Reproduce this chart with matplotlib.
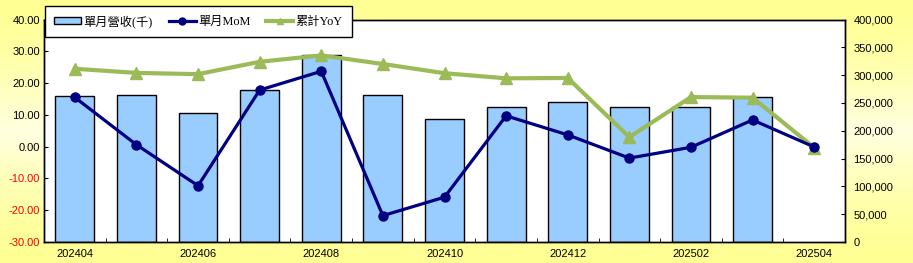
import numpy as np
import matplotlib.pyplot as plt
from matplotlib.patches import Patch
from matplotlib.lines import Line2D
from matplotlib.ticker import FuncFormatter, FixedLocator

plt.rcParams['font.family'] = ['Liberation Sans', 'Noto Sans CJK TC', 'DejaVu Sans']

months = ['202404', '202405', '202406', '202407', '202408', '202409', '202410',
          '202411', '202412', '202501', '202502', '202503', '202504']
revenue = [262000, 264000, 232000, 273000, 337000, 264000, 221000,
           243000, 252000, 243000, 242000, 261000, None]
mom = [15.5, 0.6, -12.3, 17.8, 23.7, -21.7, -15.9, 9.7, 3.7, -3.6, -0.2, 8.4, -0.1]
yoy = [24.5, 23.2, 22.8, 26.7, 28.7, 26.0, 23.1, 21.5, 21.6, 3.0, 15.6, 15.4, -0.3]

W, H = 913, 263
fig = plt.figure(figsize=(W / 100, H / 100), dpi=100)

# yellow background, lighter towards the vertical middle
bg = fig.add_axes([0, 0, 1, 1], zorder=-10)
yy = np.linspace(0, 1, 100)[:, None] * np.ones((1, 20))
t = 1 - np.abs(2 * yy - 1)
img = np.zeros((100, 20, 3))
img[..., 0] = 1.0
img[..., 1] = 1.0
img[..., 2] = 0.58 + 0.30 * t ** 1.5
bg.imshow(img, aspect='auto', extent=[0, 1, 0, 1])
bg.axis('off')

rect = [44 / W, 1 - 242 / H, (845 - 44) / W, (242 - 19.5) / H]
ax2 = fig.add_axes(rect)
ax = ax2.twinx()
ax.set_zorder(ax2.get_zorder() + 1)
ax.patch.set_visible(False)
ax2.patch.set_facecolor('white')

x = np.arange(len(months))
bx = [i for i, v in enumerate(revenue) if v is not None]
bv = [v for v in revenue if v is not None]
ax2.bar(bx, bv, width=0.63, color='#99CCFF', edgecolor='black', linewidth=1.0)
ax2.set_ylim(0, 400000)
ax2.set_yticks(np.arange(0, 400001, 50000))
ax2.yaxis.set_major_formatter(FuncFormatter(lambda v, p: f'{int(v):,}'))
ax2.yaxis.tick_right()
ax2.set_xlim(-0.5, len(months) - 0.5)

ax.plot(x, yoy, color='#9BBB59', linewidth=3, marker='^', markersize=9, zorder=3)
ax.plot(x, mom, color='#000080', linewidth=2.3, marker='o', markersize=6.5, zorder=4)
ax.set_ylim(-30, 40)
ax.set_yticks(np.arange(-30, 41, 10))
ax.yaxis.tick_left()
ax.yaxis.set_major_formatter(FuncFormatter(lambda v, p: f'{v:.2f}'))

ax2.set_xticks(x[::2])
ax2.set_xticklabels(months[::2])
ax2.xaxis.set_minor_locator(FixedLocator(np.arange(-0.5, len(months), 1)))

for a in (ax, ax2):
    for s in a.spines.values():
        s.set_color('black')
        s.set_linewidth(1.0)
    a.tick_params(direction='in', length=3, labelsize=8, pad=4)
ax.tick_params(axis='y', pad=3)
ax2.tick_params(axis='y', pad=6)
ax2.tick_params(axis='x', which='major', length=0, pad=5)
ax2.tick_params(axis='x', which='minor', direction='in', length=3)

for lbl, v in zip(ax.get_yticklabels(), np.arange(-30, 41, 10)):
    lbl.set_color('red' if v < 0 else 'black')

handles = [Patch(facecolor='#99CCFF', edgecolor='black', linewidth=1.0),
           Line2D([], [], color='#000080', linewidth=2.3, marker='o', markersize=5),
           Line2D([], [], color='#9BBB59', linewidth=3, marker='^', markersize=5)]
labels = ['單月營收(千)', '單月MoM', '累計YoY']
leg = fig.legend(handles, labels, ncol=3, loc='upper left',
                 bbox_to_anchor=(45 / W, 1 - 6 / H), frameon=True, fancybox=False,
                 edgecolor='black', framealpha=1,
                 prop={'family': ['Liberation Serif', 'Noto Sans CJK TC'], 'size': 8.8},
                 handlelength=2.2, handleheight=0.45, handletextpad=0.2,
                 columnspacing=1.3, borderpad=0.75, borderaxespad=0)
leg.get_frame().set_linewidth(1.0)
leg.set_zorder(20)

fig.savefig('out.png', dpi=100)
